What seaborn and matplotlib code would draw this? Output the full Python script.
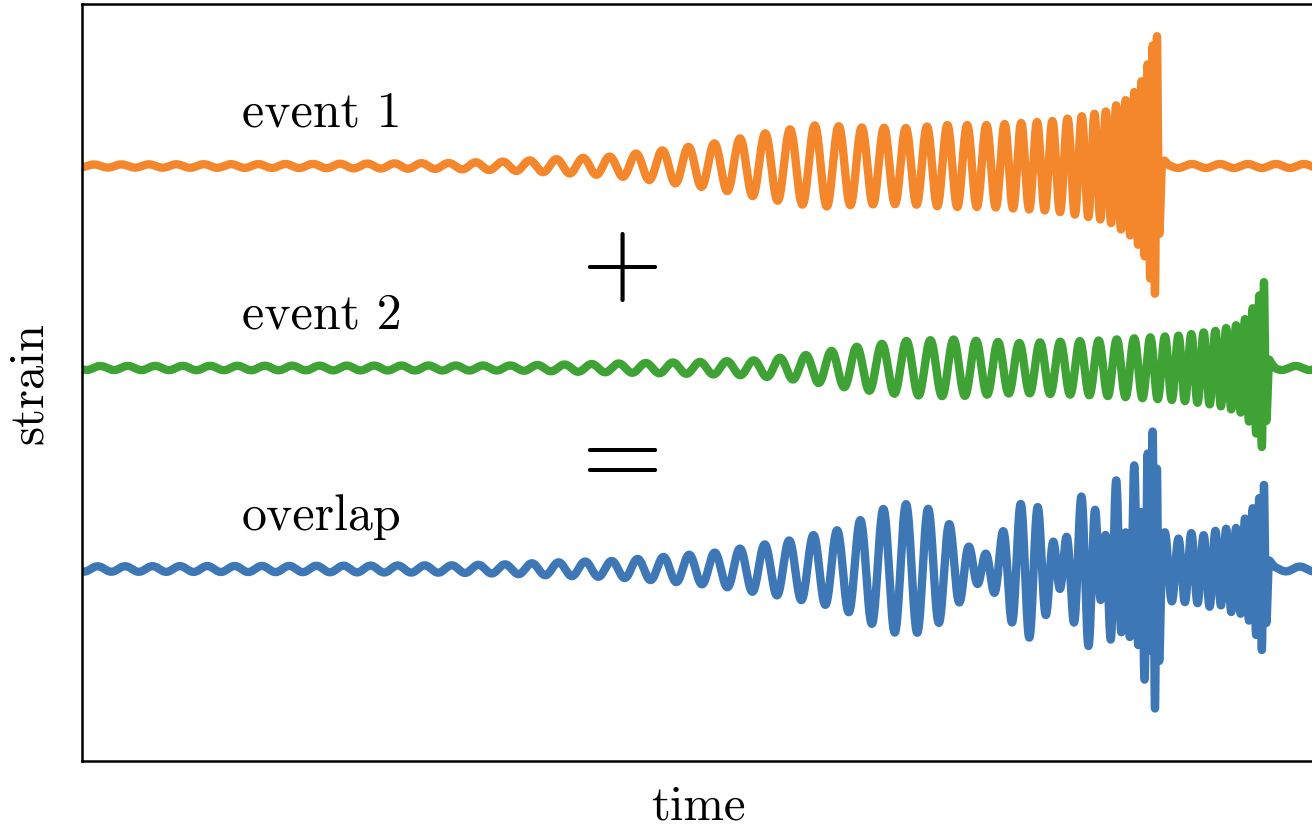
import numpy as np
import pandas as pd
import matplotlib
matplotlib.use("Agg")
import matplotlib.pyplot as plt
import seaborn as sns

# ---------------- data (time axis in arbitrary units) ----------------
series_names = ["event 1", "event 2", "overlap"]
series_offsets = [202.0, 0.0, -201.0]          # vertical offset of each trace (strain units)
series_colors = ["#f4862b", "#3ea235", "#3d77b5"]

# event 1: envelope (amplitude) read at sample times
ev1_amp_t = [0, 218, 368, 425, 478, 530, 583, 635, 685, 735, 781, 825, 866, 906, 971, 1001,
             1026, 1036, 1046, 1055, 1063, 1068, 1073, 1075, 1080, 1086, 1233]
ev1_amp = [1.5, 2, 3, 4.5, 7, 9.5, 16, 23, 33, 41, 38.5, 38, 41, 41, 45, 50,
           55, 62, 67, 77, 91, 112, 128, 130, 8, 2, 2]
# event 1: oscillation period read at sample times
ev1_per_t = [0, 420, 620, 685, 735, 781, 825, 866, 906, 930, 956, 986, 1008, 1026, 1046,
             1060, 1075, 1080, 1088, 1233]
ev1_per = [27.5, 27, 26, 25, 24.5, 22.5, 21.5, 20, 19, 16.5, 15.5, 15, 12.5, 10.5, 9,
           6.5, 4, 10, 28, 28]
ev1_merger = 1075

# event 2
ev2_amp_t = [0, 346, 428, 536, 616, 670, 721, 773, 823, 871, 936, 1016, 1098, 1136, 1158,
             1166, 1175, 1181, 1182, 1188, 1194, 1233]
ev2_amp = [2, 2.5, 2.5, 4.5, 6, 7.5, 12.5, 21, 27, 28.5, 25, 27.5, 32.5, 37.5, 44,
           52, 67, 82, 86, 6, 2, 2]
ev2_per_t = [0, 640, 700, 800, 850, 936, 978, 1016, 1053, 1070, 1098, 1125, 1148, 1162,
             1175, 1182, 1188, 1196, 1233]
ev2_per = [27.5, 27, 26, 25, 23.5, 21, 20, 18.5, 17, 15, 13, 12, 10, 8.5,
           6.5, 4, 10, 28, 28]
ev2_merger = 1182

t_start, t_end = 0, 1233
n_samples = 24000


def waveform(t, amp_t, amp, per_t, per, t_merger):
    env = np.interp(t, amp_t, amp)
    period = np.interp(t, per_t, per)
    dt = t[1] - t[0]
    phase = 2 * np.pi * np.cumsum(1.0 / period) * dt
    phase -= np.interp(t_merger, t, phase)
    return env * np.cos(phase)


t = np.linspace(t_start, t_end, n_samples)
h1 = waveform(t, ev1_amp_t, ev1_amp, ev1_per_t, ev1_per, ev1_merger)
h2 = waveform(t, ev2_amp_t, ev2_amp, ev2_per_t, ev2_per, ev2_merger)
traces = [h1, h2, h1 + h2]

df = pd.concat(
    [pd.DataFrame({"time": t, "strain": h + off, "series": name})
     for name, h, off in zip(series_names, traces, series_offsets)],
    ignore_index=True,
)

# ---------------- plot ----------------
sns.set_style("white")
plt.rcParams["font.family"] = ["cmr10", "DejaVu Serif"]
plt.rcParams["axes.unicode_minus"] = False
plt.rcParams["text.color"] = "black"
plt.rcParams["axes.labelcolor"] = "black"

fig = plt.figure(figsize=(13.12, 8.29), dpi=100)
ax = fig.add_axes([82 / 1312, 67 / 829, 1233 / 1312, 757 / 829])

sns.lineplot(data=df, x="time", y="strain", hue="series", hue_order=series_names,
             palette=series_colors, estimator=None, sort=False, legend=False,
             linewidth=6.0, ax=ax, solid_joinstyle="round", solid_capstyle="round")

ax.set_xlim(t_start, t_end)
ax.set_ylim(-393, 364)
ax.set_xticks([])
ax.set_yticks([])
for s in ax.spines.values():
    s.set_visible(True)
    s.set_color("black")
    s.set_linewidth(1.8)

ax.set_xlabel("time", fontsize=35, labelpad=17, color="black")
ax.set_ylabel("strain", fontsize=35, labelpad=22, color="black")

for name, off in zip(series_names, series_offsets):
    ax.text(160, off + 40, name, fontsize=36, ha="left", va="baseline", color="black")

ax.text(540, 102, "+", fontsize=75, ha="center", va="center", color="black")
ax.text(540, -91, "=", fontsize=75, ha="center", va="center", color="black")

fig.savefig("out.png", dpi=100)
